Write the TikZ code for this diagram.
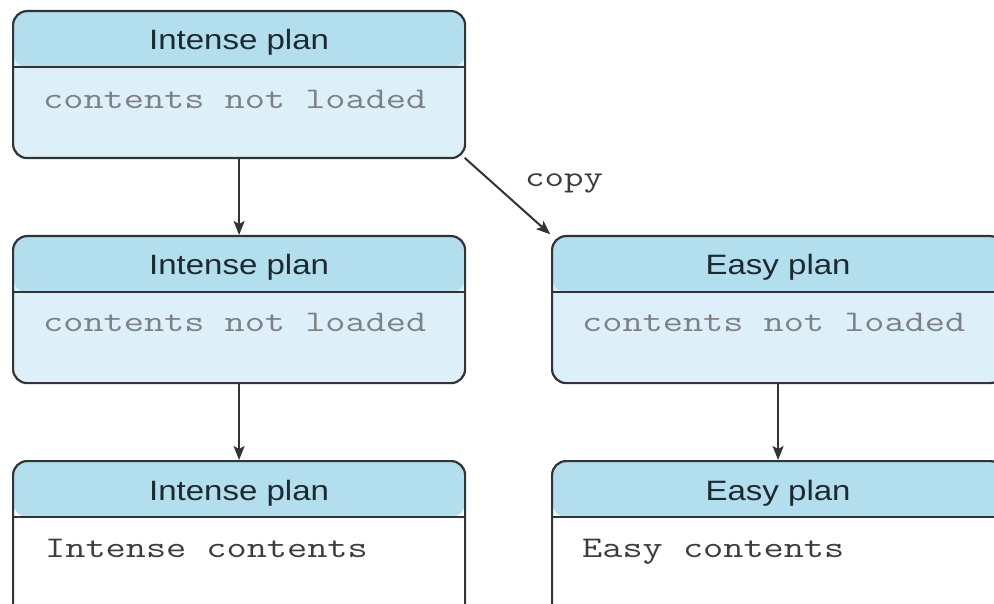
\documentclass[tikz,border=0pt]{standalone}
\usepackage{graphicx}
\usepackage{fontspec}
\usetikzlibrary{arrows.meta}
\newfontfamily\headfont{Liberation Sans}
\definecolor{edge}{HTML}{303436}
\definecolor{head}{HTML}{B3DEEE}
\definecolor{body}{HTML}{DDEFF8}
\definecolor{faint}{HTML}{7E8183}
\definecolor{ink}{HTML}{3A3C3E}
\definecolor{titleink}{HTML}{1C2A30}
% titles and code are set slightly wide
\newcommand\wide[1]{\scalebox{1.18}[1]{#1}}
\newcommand\codewide[1]{\scalebox{1.305}[1]{#1}}
\tikzset{
  plan/.style={draw=edge, line width=2.2pt, rounded corners=14pt,
    minimum width=452pt, minimum height=147pt, anchor=north west,
    inner sep=0pt, fill=#1,
    path picture={
      \fill[head] (path picture bounding box.north west) rectangle
        ([yshift=-56pt]path picture bounding box.north east);
      \draw[edge, line width=2.2pt]
        ([yshift=-56pt]path picture bounding box.north west) --
        ([yshift=-56pt]path picture bounding box.north east);}},
  title/.style={anchor=base, inner sep=0pt, text=titleink,
    font=\headfont\fontsize{28}{32}\selectfont},
  code/.style={anchor=base west, inner sep=0pt, text=#1,
    font=\ttfamily\fontsize{30}{34}\selectfont},
  link/.style={draw=edge, line width=2pt,
    -{Stealth[length=14pt,width=11pt,inset=3pt]}}
}
\begin{document}
\begin{tikzpicture}[x=1pt,y=-1pt]
\clip (0,0) rectangle (994,604);
\fill[white] (0,0) rectangle (994,604);

% plan boxes
\node[plan=body]  (a) at (12,10)  {};
\node[plan=body]  (b) at (12,235) {};
\node[plan=body]  (c) at (551,235) {};
\node[plan=white, minimum height=170pt] (d) at (12,460) {};
\node[plan=white, minimum height=170pt] (e) at (551,460) {};

% titles
\node[title] (at) at ([yshift=-40pt]a.north) {\wide{Intense plan}};
\node[title] (bt) at ([yshift=-40pt]b.north) {\wide{Intense plan}};
\node[title] (ct) at ([yshift=-40pt]c.north) {\wide{Easy plan}};
\node[title] (dt) at ([yshift=-40pt]d.north) {\wide{Intense plan}};
\node[title] (et) at ([yshift=-40pt]e.north) {\wide{Easy plan}};

% contents
\node[code=faint] (ab) at ([xshift=31pt,yshift=-99pt]a.north west) {\codewide{contents not loaded}};
\node[code=faint] (bb) at ([xshift=31pt,yshift=-96pt]b.north west) {\codewide{contents not loaded}};
\node[code=faint] (cb) at ([xshift=31pt,yshift=-96pt]c.north west) {\codewide{contents not loaded}};
\node[code=ink]   (db) at ([xshift=33pt,yshift=-97pt]d.north west) {\codewide{Intense contents}};
\node[code=ink]   (eb) at ([xshift=31pt,yshift=-97pt]e.north west) {\codewide{Easy contents}};

% connectors
\draw[link] (a.south) -- (b.north);
\draw[link] (b.south) -- (d.north);
\draw[link] (c.south) -- (e.north);
\draw[link, shorten <=-2pt, shorten >=1pt] (a.south east) -- (c.north west);
\node[code=ink, font=\ttfamily\fontsize{29}{32}\selectfont] (cp) at (525,187) {\codewide{copy}};
\end{tikzpicture}
\end{document}
